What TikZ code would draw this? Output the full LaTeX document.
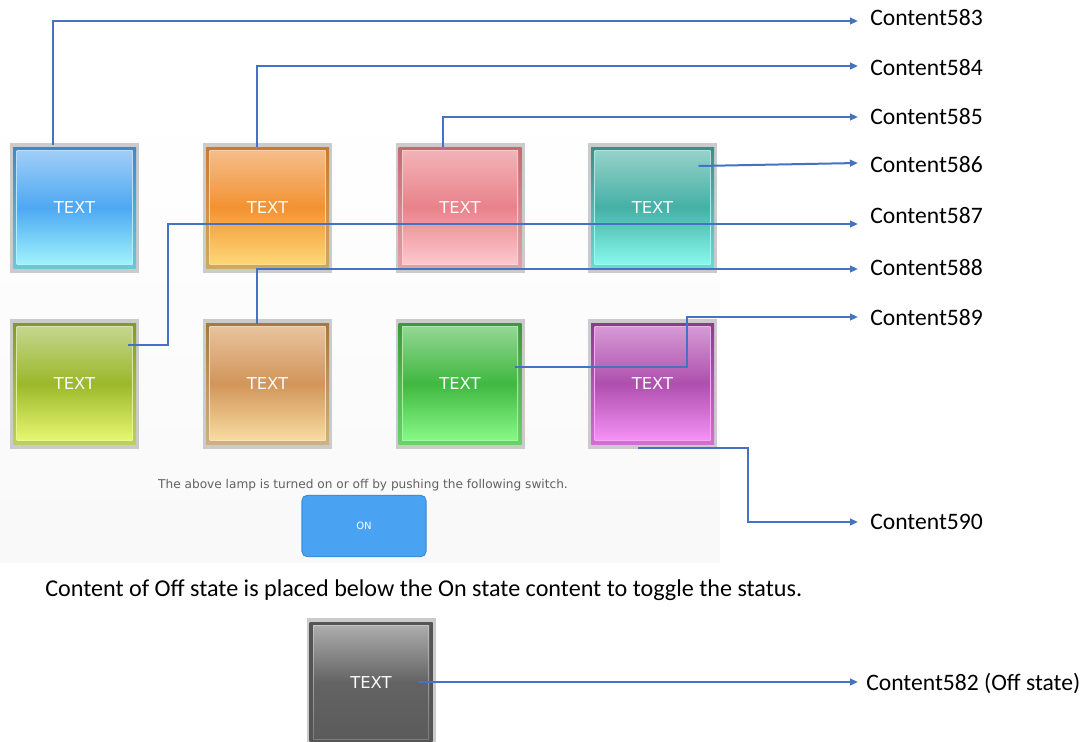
\documentclass[tikz,border=0pt]{standalone}
\usepackage{fontspec}
\setmainfont{Carlito}
\newfontfamily\uifont{DejaVu Sans}
\usetikzlibrary{calc,arrows.meta}
\definecolor{conn}{HTML}{4472C4}
\definecolor{frame}{HTML}{CBCBCB}
\definecolor{swfill}{HTML}{4AA3F2}
\definecolor{swdraw}{HTML}{3C8EDB}
\tikzset{
  connector/.style={draw=conn, line width=1.5pt},
  arrowed/.style={connector, -{Triangle[length=6pt,width=5pt]}},
  lbl/.style={anchor=west, inner sep=0pt, font=\fontsize{17.7}{21}\selectfont, text=black},
  lamptext/.style={minimum width=96.75pt, minimum height=97.5pt, inner sep=0pt, text=white!95!gray, font=\uifont\fontsize{12.3}{14}\selectfont},
}
% #1 name, #2 x, #3 y, #4 top, #5 mid, #6 bottom, #7 border top, #8 border bottom (hex)
\newcommand\drawlamp[8]{%
  \definecolor{lt#1}{HTML}{#4}\definecolor{lm#1}{HTML}{#5}\definecolor{lb#1}{HTML}{#6}%
  \definecolor{bt#1}{HTML}{#7}\definecolor{bb#1}{HTML}{#8}%
  \fill[frame] (#2-64.5,#3-65) rectangle (#2+64.5,#3+65);
  \shade[top color=bt#1, bottom color=bb#1] (#2-61.5,#3-61) rectangle (#2+61.5,#3+60);
  \shade[top color=lt#1!70!white, bottom color=lb#1!80!white] (#2-58,#3-57.5) rectangle (#2+58,#3+56.5);
  \shade[top color=lt#1, bottom color=lb#1, middle color=lm#1] (#2-57,#3-56.5) rectangle (#2+57,#3+55.5);
  \node[lamptext] (#1) at (#2,#3) {TEXT};
}
\begin{document}
\begin{tikzpicture}[x=0.75pt,y=-0.75pt]
\useasboundingbox (0,0) rectangle (1089,742);
\fill[white] (0,0) rectangle (1089,742);
\shade[top color=white, bottom color=black!2.5] (0,100) rectangle (720,562);

% lamps top row
\drawlamp{l1}{74.5}{208}{9FCDF7}{4DA8F2}{9EF2FC}{3F88C8}{6CC6D8}
\drawlamp{l2}{267.5}{208}{F5BC88}{F39232}{FDD775}{C87A32}{D0A860}
\drawlamp{l3}{460}{208}{F2B2B7}{E9828A}{FCC8CE}{C46A70}{E0A0A8}
\drawlamp{l4}{652.5}{208}{95D1C9}{44B0A6}{88F8EC}{3A8F86}{70D8D0}
% lamps bottom row
\drawlamp{l5}{74.5}{384}{C4D58C}{9CB82A}{E6F670}{849A26}{BCD060}
\drawlamp{l6}{267.5}{384}{E7C29C}{D2955A}{F8DBA0}{A9773F}{D0B080}
\drawlamp{l7}{460}{384}{92D692}{40B840}{86F886}{3A9A3A}{6CD06C}
\drawlamp{l8}{652.5}{384}{D698D4}{AE4FAE}{F590F5}{8E3A8E}{D070D0}
% off lamp
\drawlamp{l0}{371}{683}{ABABAB}{636363}{5B5B5B}{555555}{555555}

% caption and switch
\node[inner sep=0pt, text=black!62, font=\uifont\fontsize{9.1}{11}\selectfont] (cap) at (363,485) {The above lamp is turned on or off by pushing the following switch.};
\node[draw=swdraw, fill=swfill, line width=0.8pt, rounded corners=4pt, minimum width=93pt, minimum height=46pt, inner sep=0pt, text=white, font=\uifont\fontsize{7.5}{9}\selectfont] (sw) at (364,526) {ON};
\node[anchor=west, inner sep=0pt, font=\fontsize{18.1}{21}\selectfont] (note) at (45,590) {Content of Off state is placed below the On state content to toggle the status.};

% labels
\node[lbl] (c583) at (870,18) {Content583};
\node[lbl] (c584) at (870,68) {Content584};
\node[lbl] (c585) at (870,117) {Content585};
\node[lbl] (c586) at (870,165) {Content586};
\node[lbl] (c587) at (870,216) {Content587};
\node[lbl] (c588) at (870,268) {Content588};
\node[lbl] (c589) at (870,318) {Content589};
\node[lbl] (c590) at (870,522) {Content590};
\node[lbl] (c582) at (866,683) {Content582 (Off state)};

% connectors
\draw[arrowed] ($(l1.north)+(-21.5,2)$) |- ([xshift=-9pt]c583.west|-0,21);
\draw[arrowed] ($(l2.north)+(-10.5,4)$) |- ([xshift=-9pt]c584.west|-0,66);
\draw[arrowed] ($(l3.north)+(-17,4)$) |- ([xshift=-9pt]c585.west);
\draw[arrowed] ($(l4.center)+(46,-42)$) -- ([xshift=-9pt]c586.west|-0,163);
\draw[arrowed] ($(l5.center)+(53,-39)$) -| (168,224) -- ([xshift=-9pt]c587.west|-0,224);
\draw[arrowed] ($(l6.north)+(-10.5,5)$) |- ([xshift=-9pt]c588.west|-0,269);
\draw[arrowed] ($(l7.center)+(55,-17)$) -| (687,317) -- ([xshift=-9pt]c589.west|-0,317);
\draw[arrowed] ($(l8.south)+(-14.5,-1)$) -| (748,522) -- ([xshift=-9pt]c590.west);
\draw[arrowed] ($(l0.center)+(47,-1)$) -- ([xshift=-6pt]c582.west|-0,682);
\end{tikzpicture}
\end{document}
